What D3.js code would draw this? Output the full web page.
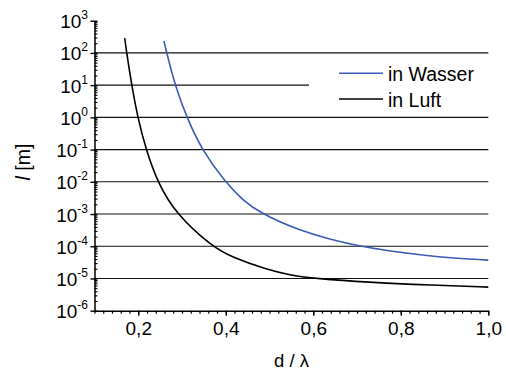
<!DOCTYPE html>
<html>
<head>
<meta charset="utf-8">
<script src="https://cdn.jsdelivr.net/npm/d3@7"></script>
<style>
  body { margin: 0; background: #fff; }
  text { font-family: "Liberation Sans", Arial, sans-serif; fill: #000; }
</style>
</head>
<body>
<svg id="chart" width="506" height="372"></svg>
<script>
// Data (d / lambda against l in metres)
const xLuft   = [0.169, 0.1736, 0.185, 0.1987, 0.2177, 0.2435, 0.2862, 0.3678, 0.4165, 0.4935, 0.55, 0.6039, 0.722, 0.8735, 1.0];
const lLuft   = [290, 100, 10, 1, 0.1, 0.01, 1e-3, 1e-4, 4.4e-5, 1.9e-5, 1.23e-5, 1.0e-5, 7.6e-6, 6.2e-6, 5.4e-6];
const xWasser = [0.2588, 0.265, 0.284, 0.3107, 0.345, 0.398, 0.44, 0.478, 0.562, 0.6914, 0.8667, 1.0];
const lWasser = [235, 100, 10, 1, 0.1, 0.01, 2.6e-3, 1.1e-3, 3.2e-4, 1e-4, 4.8e-5, 3.7e-5];

const seriesNames = ["in Wasser", "in Luft"];
const seriesColors = ["#3b5bb5", "#000000"];

const xTicks = [0.2, 0.4, 0.6, 0.8, 1.0];
const yExponents = [-6, -5, -4, -3, -2, -1, 0, 1, 2, 3];
const gridExponents = [-5, -4, -3, -2, -1, 0, 1, 2];

const svg = d3.select("#chart");

// Scales
const x = d3.scaleLinear().domain([0.1, 1.0]).range([94.5, 488.3]);
const y = d3.scaleLog().domain([1e-6, 1e3]).range([310.7, 20.7]);

// Horizontal grid lines at each decade
svg.append("g")
    .selectAll("line")
    .data(gridExponents)
    .enter().append("line")
    .attr("x1", x(0.1))
    .attr("x2", x(1.0))
    .attr("y1", d => y(Math.pow(10, d)))
    .attr("y2", d => y(Math.pow(10, d)))
    .attr("stroke", "#111")
    .attr("stroke-width", 1.1);

// Curves
const line = d3.line()
    .x(d => x(d[0]))
    .y(d => y(d[1]))
    .curve(d3.curveBasis);

const series = [
    d3.zip(xWasser, lWasser),
    d3.zip(xLuft, lLuft)
];

svg.append("g")
    .selectAll("path")
    .data(series)
    .enter().append("path")
    .attr("d", line)
    .attr("fill", "none")
    .attr("stroke", (d, i) => seriesColors[i])
    .attr("stroke-width", 1.6);

// Legend (white box hides the grid line behind it)
const legend = svg.append("g");
legend.append("rect")
    .attr("x", 309)
    .attr("y", 60)
    .attr("width", 185)
    .attr("height", 50)
    .attr("fill", "#fff");

seriesNames.forEach((name, i) => {
    const ly = 73.3 + i * 25.7;
    legend.append("line")
        .attr("x1", 339).attr("x2", 383)
        .attr("y1", ly).attr("y2", ly)
        .attr("stroke", seriesColors[i])
        .attr("stroke-width", 1.6);
    legend.append("text")
        .attr("x", 388)
        .attr("y", ly + 7.5)
        .style("font-size", "19.5px")
        .text(name);
});

// X axis: minor ticks every 0.02, major every 0.2
const xMinor = d3.range(0.1, 1.0001, 0.02);
svg.append("g")
    .attr("transform", "translate(0," + y(1e-6) + ")")
    .call(d3.axisBottom(x).tickValues(xMinor).tickSize(3).tickFormat("").tickSizeOuter(0))
    .call(g => g.select(".domain").attr("stroke-width", 1.5))
    .call(g => g.selectAll(".tick line").attr("stroke-width", 1.2));

svg.append("g")
    .attr("transform", "translate(0," + y(1e-6) + ")")
    .call(d3.axisBottom(x).tickValues(xTicks).tickSize(5).tickPadding(5.5)
        .tickFormat(d => d3.format(".1f")(d).replace(".", ",")).tickSizeOuter(0))
    .call(g => g.select(".domain").remove())
    .call(g => g.selectAll(".tick line").attr("stroke-width", 1.4))
    .call(g => g.selectAll("text").style("font-size", "19px").attr("font-family", null));

// Y axis: minor ticks inside, major ticks crossing
const yMinor = [];
for (let e = -6; e < 3; e++) {
    for (let k = 2; k <= 9; k++) yMinor.push(k * Math.pow(10, e));
}
svg.append("g")
    .attr("transform", "translate(" + x(0.1) + ",0)")
    .call(d3.axisRight(y).tickValues(yMinor).tickSize(3).tickFormat("").tickSizeOuter(0))
    .call(g => g.select(".domain").remove())
    .call(g => g.selectAll(".tick line").attr("stroke-width", 1.1));

const yAxis = svg.append("g")
    .attr("transform", "translate(" + x(0.1) + ",0)")
    .call(d3.axisLeft(y).tickValues(yExponents.map(e => Math.pow(10, e)))
        .tickSize(4).tickFormat("").tickSizeOuter(0))
    .call(g => g.select(".domain").attr("stroke-width", 1.5))
    .call(g => g.selectAll(".tick line").attr("x2", -4).attr("x1", 3).attr("stroke-width", 1.4));

yAxis.selectAll(".tick")
    .each(function(d) {
        const t = d3.select(this).append("text")
            .attr("x", -6.5)
            .attr("y", 7)
            .attr("text-anchor", "end")
            .style("font-size", "19px");
        t.append("tspan").text("10");
        t.append("tspan")
            .attr("dy", -9)
            .style("font-size", "12px")
            .text(Math.round(Math.log10(d)));
    });

// Axis titles
svg.append("text")
    .attr("x", 291.5)
    .attr("y", 366.5)
    .attr("text-anchor", "middle")
    .style("font-size", "18.5px")
    .text("d / \u03bb");

const yTitle = svg.append("text")
    .attr("transform", "translate(30,162) rotate(-90)")
    .attr("text-anchor", "middle")
    .style("font-size", "19.5px");
yTitle.append("tspan").style("font-style", "italic").text("l");
yTitle.append("tspan").text(" [m]");
</script>
</body>
</html>
